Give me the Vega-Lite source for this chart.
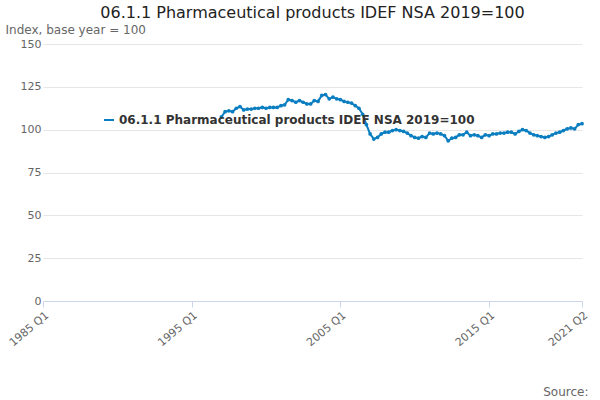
{
"$schema":"https://vega.github.io/schema/vega-lite/v6.json",
"width":600,"height":400,
"autosize":{"type":"fit","contains":"padding"},
"padding":{"left":5,"right":10,"top":5,"bottom":3},
"title":{"text":"06.1.1 Pharmaceutical products IDEF NSA 2019=100","font":"DejaVu Sans","fontSize":16,"fontWeight":"normal","color":"#222","anchor":"middle","offset":2},
"config":{"font":"DejaVu Sans","view":{"stroke":null}},
"data":{"values":[
{"q":"1997-01-01","v":107.5},{"q":"1997-04-01","v":110.5},{"q":"1997-07-01","v":111},{"q":"1997-10-01","v":110.5},
{"q":"1998-01-01","v":112.5},{"q":"1998-04-01","v":113.5},{"q":"1998-07-01","v":111.5},{"q":"1998-10-01","v":112},
{"q":"1999-01-01","v":112},{"q":"1999-04-01","v":112.5},{"q":"1999-07-01","v":112.5},{"q":"1999-10-01","v":113},
{"q":"2000-01-01","v":112.5},{"q":"2000-04-01","v":113},{"q":"2000-07-01","v":113},{"q":"2000-10-01","v":113},
{"q":"2001-01-01","v":114},{"q":"2001-04-01","v":114.5},{"q":"2001-07-01","v":117.5},{"q":"2001-10-01","v":117},
{"q":"2002-01-01","v":116},{"q":"2002-04-01","v":117},{"q":"2002-07-01","v":116},{"q":"2002-10-01","v":115},
{"q":"2003-01-01","v":115},{"q":"2003-04-01","v":117},{"q":"2003-07-01","v":116.5},{"q":"2003-10-01","v":120},
{"q":"2004-01-01","v":120.5},{"q":"2004-04-01","v":118},{"q":"2004-07-01","v":119},{"q":"2004-10-01","v":118},
{"q":"2005-01-01","v":117.5},{"q":"2005-04-01","v":116.5},{"q":"2005-07-01","v":116},{"q":"2005-10-01","v":115.5},
{"q":"2006-01-01","v":114},{"q":"2006-04-01","v":112.5},{"q":"2006-07-01","v":109},{"q":"2006-10-01","v":103},
{"q":"2007-01-01","v":97.5},{"q":"2007-04-01","v":94.5},{"q":"2007-07-01","v":95.5},{"q":"2007-10-01","v":97.5},
{"q":"2008-01-01","v":98.5},{"q":"2008-04-01","v":98.5},{"q":"2008-07-01","v":99.5},{"q":"2008-10-01","v":100},
{"q":"2009-01-01","v":99.5},{"q":"2009-04-01","v":99},{"q":"2009-07-01","v":98},{"q":"2009-10-01","v":96.5},
{"q":"2010-01-01","v":95.5},{"q":"2010-04-01","v":95},{"q":"2010-07-01","v":96},{"q":"2010-10-01","v":95.5},
{"q":"2011-01-01","v":98},{"q":"2011-04-01","v":97.5},{"q":"2011-07-01","v":98},{"q":"2011-10-01","v":97.5},
{"q":"2012-01-01","v":96.5},{"q":"2012-04-01","v":93.5},{"q":"2012-07-01","v":95},{"q":"2012-10-01","v":95.5},
{"q":"2013-01-01","v":97},{"q":"2013-04-01","v":97},{"q":"2013-07-01","v":98.5},{"q":"2013-10-01","v":96.5},
{"q":"2014-01-01","v":97},{"q":"2014-04-01","v":96.5},{"q":"2014-07-01","v":95.5},{"q":"2014-10-01","v":97},
{"q":"2015-01-01","v":96.5},{"q":"2015-04-01","v":97.5},{"q":"2015-07-01","v":97.5},{"q":"2015-10-01","v":98},
{"q":"2016-01-01","v":98},{"q":"2016-04-01","v":98.5},{"q":"2016-07-01","v":98.5},{"q":"2016-10-01","v":97.5},
{"q":"2017-01-01","v":99},{"q":"2017-04-01","v":100},{"q":"2017-07-01","v":99.5},{"q":"2017-10-01","v":98},
{"q":"2018-01-01","v":97},{"q":"2018-04-01","v":96.5},{"q":"2018-07-01","v":96},{"q":"2018-10-01","v":95.5},
{"q":"2019-01-01","v":96},{"q":"2019-04-01","v":97},{"q":"2019-07-01","v":98},{"q":"2019-10-01","v":98.5},
{"q":"2020-01-01","v":99.5},{"q":"2020-04-01","v":100.5},{"q":"2020-07-01","v":101},{"q":"2020-10-01","v":100.5},
{"q":"2021-01-01","v":103},{"q":"2021-04-01","v":103.5}
],"format":{"parse":{"q":"utc:'%Y-%m-%d'"}}},
"mark":{"type":"line","color":"#0b7ec1","strokeWidth":2,"point":{"filled":true,"size":14,"color":"#0b7ec1"}},
"encoding":{
"x":{"field":"q","type":"temporal","scale":{"type":"utc","domain":[{"year":1985,"month":1,"date":1,"utc":true},{"year":2021,"month":4,"date":1,"utc":true}]},
"axis":{"values":[{"year":1985,"month":1,"date":1,"utc":true},{"year":1995,"month":1,"date":1,"utc":true},{"year":2005,"month":1,"date":1,"utc":true},{"year":2015,"month":1,"date":1,"utc":true},{"year":2021,"month":4,"date":1,"utc":true}],
"labelExpr":"utcFormat(datum.value,'%Y') + ' Q' + (floor(utcmonth(datum.value)/3)+1)","labelAngle":-40,"labelFontSize":11,"labelColor":"#666","grid":false,"domainColor":"#ccd6eb","tickColor":"#ccd6eb","tickSize":6,
"title":"Source:","titleFontWeight":"normal","titleColor":"#666","titleFontSize":12,"titleAlign":"right","titleAnchor":"end","titleBaseline":"bottom","titleY":97,"titleX":545}},
"y":{"field":"v","type":"quantitative","scale":{"domain":[0,150]},
"axis":{"values":[0,25,50,75,100,125,150],"labelColor":"#666","labelFontSize":11,"gridColor":"#e6e6e6","domain":false,"ticks":false,
"title":"Index, base year = 100","titleAngle":0,"titleAlign":"left","titleBaseline":"bottom","titleX":-38,"titleY":-8,"titleFontWeight":"normal","titleColor":"#666","titleFontSize":12}},
"color":{"datum":"06.1.1 Pharmaceutical products IDEF NSA 2019=100","type":"nominal","scale":{"range":["#0b7ec1"]},
"legend":{"orient":"none","legendX":60,"legendY":70,"title":null,"labelFontSize":12,"labelFontWeight":"bold","labelColor":"#333","symbolType":"stroke","symbolStrokeWidth":2,"labelLimit":500}}
}
}
